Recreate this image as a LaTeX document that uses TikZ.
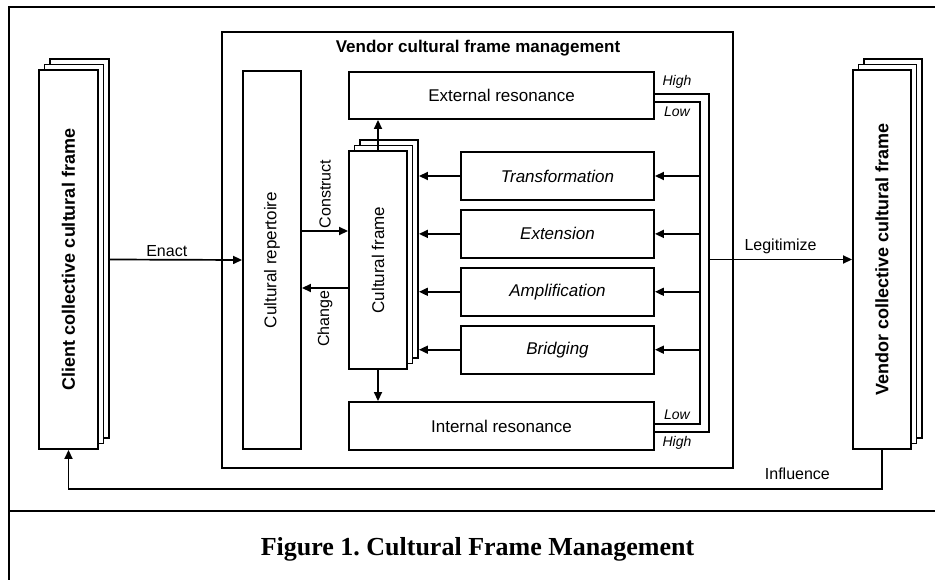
\documentclass[tikz,border=0pt]{standalone}
\usepackage{fontspec}
\setmainfont{Liberation Sans}
\newfontfamily\capfont{Liberation Serif}
\usetikzlibrary{arrows.meta,positioning,shadows}
\frenchspacing

\begin{document}
\begin{tikzpicture}[x=1pt,y=-1pt,>={Triangle[length=9pt,width=8pt]},
  box/.style={draw,line width=1.9pt,fill=white,inner sep=0pt,font=\fontsize{17}{20}\selectfont},
  stack/.style={box,
    copy shadow={shadow xshift=11pt,shadow yshift=11pt,draw,fill=white,line width=1.9pt},
    copy shadow={shadow xshift=5.5pt,shadow yshift=5.5pt,draw,fill=white,line width=1.9pt}},
  strat/.style={box,minimum width=193pt,minimum height=48pt,font=\fontsize{17}{20}\selectfont\itshape},
  lbl/.style={font=\fontsize{16}{19}\selectfont,inner sep=2pt},
  lvl/.style={font=\fontsize{14}{16}\selectfont\itshape,inner sep=0pt},
  conn/.style={line width=1.7pt}]
  \useasboundingbox (0,0) rectangle (935,580);
  % outer frame and caption
  \draw[line width=1.9pt] (9,7) rectangle (937,590);
  \draw[line width=1.9pt] (9,511) -- (937,511);
  \node[font=\capfont\bfseries\fontsize{26}{30}\selectfont] (caption) at (477.5,549) {Figure 1. Cultural Frame Management};

  % management box
  \node[draw,line width=1.9pt,minimum width=511pt,minimum height=436pt] (mgmt) at (477.5,250) {};
  \node[font=\bfseries\fontsize{17}{20}\selectfont] (mgmttitle) at (478,48.5) {Vendor cultural frame management};

  % collective frames
  \node[stack,minimum width=59pt,minimum height=379pt] (client) at (68.5,259.5)
    {\rotatebox{90}{\bfseries\fontsize{18}{21}\selectfont Client collective cultural frame}};
  \node[stack,minimum width=58pt,minimum height=379pt] (vendor) at (882,259.5)
    {\rotatebox{90}{\bfseries\fontsize{18}{21}\selectfont Vendor collective cultural frame}};

  % inside the management box
  \node[box,minimum width=58pt,minimum height=378pt] (repertoire) at (272,260) {\rotatebox{90}{Cultural repertoire}};
  \node[stack,minimum width=58pt,minimum height=218pt] (frame) at (378,260) {\rotatebox{90}{Cultural frame}};
  \node[box,minimum width=305pt,minimum height=47pt] (extres) at (501.5,95.5) {External resonance};
  \node[box,minimum width=305pt,minimum height=48pt] (intres) at (501.5,426) {Internal resonance};
  \node[strat] (transf) at (557.5,176) {Transformation};
  \node[strat] (extn) [below=8pt of transf] {Extension};
  \node[strat] (ampl) [below=8pt of extn] {Amplification};
  \node[strat] (bridg) [below=8pt of ampl] {Bridging};

  % resonance feedback
  \coordinate (hitop) at (709,94);
  \coordinate (lowtop) at (700,102);
  \coordinate (lowbot) at (700,424);
  \coordinate (hibot) at (709,432);
  \coordinate (fback) at ([xshift=11pt]frame.east);
  \draw[conn] (extres.east |- hitop) -- (hitop) -- (hibot) -- (intres.east |- hibot);
  \draw[conn] (extres.east |- lowtop) -- (lowtop) -- (lowbot) -- (intres.east |- lowbot);
  \node[lvl] (hi1) at (677,82) {High};
  \node[lvl] (lo1) at (677,112) {Low};
  \node[lvl] (lo2) at (677,415) {Low};
  \node[lvl] (hi2) at (677,443) {High};

  \foreach \s in {transf,extn,ampl,bridg}{
    \draw[conn,->] (\s.east -| lowtop) -- (\s.east);
    \draw[conn,->] (\s.west) -- (\s.west -| fback);
  }

  \draw[conn,->] ([xshift=11pt]client.east) -- (repertoire.west) node[lbl,above,pos=0.43] {Enact};
  \draw[conn,->] ([yshift=29pt]repertoire.east) -- ([yshift=29pt]frame.west)
    node[lbl,rotate=90,anchor=west,midway] {Construct};
  \draw[conn,->] ([yshift=-28pt]frame.west) -- ([yshift=-28pt]repertoire.east)
    node[lbl,rotate=90,anchor=east,midway] {Change};
  \draw[conn,->] (frame.north) -- (frame.north |- extres.south);
  \draw[conn,->] (frame.south) -- (frame.south |- intres.north);
  \draw[conn,->] (vendor.west -| hitop) -- (vendor.west) node[lbl,above=3pt,midway] {Legitimize};
  \draw[conn,->] (vendor.south) -- ++(0,39) -| node[lbl,above=6pt,pos=0.052] {Influence} (client.south);
\end{tikzpicture}
\end{document}
